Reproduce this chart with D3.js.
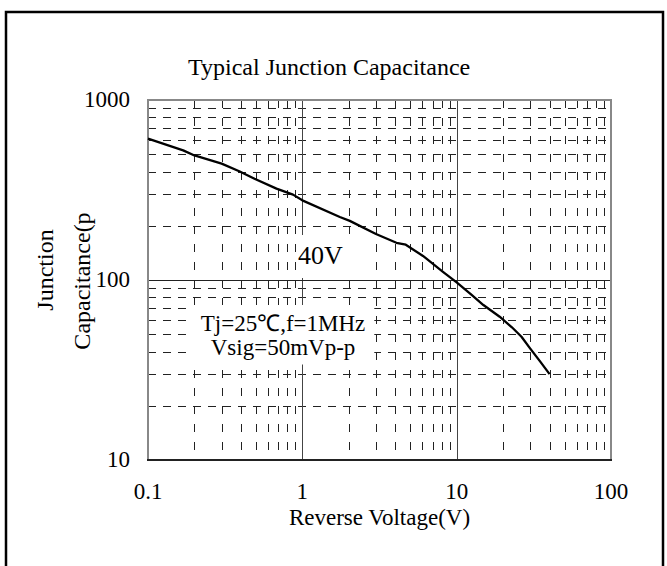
<!DOCTYPE html>
<html>
<head>
<meta charset="utf-8">
<script src="https://cdn.jsdelivr.net/npm/d3@7"></script>
<style>
  body { margin: 0; background: #fff; }
  svg text { font-family: "Liberation Serif", "Times New Roman", serif; fill: #000; }
</style>
</head>
<body>
<div id="chart"></div>
<script>
// values
const voltage = [0.1, 0.169, 0.2, 0.3, 0.39, 0.49, 0.68, 0.87, 1.0, 1.75, 2.03, 3.0, 4.07, 4.68, 6.05, 8.15, 10, 12.5, 14.9, 19, 22.8, 26.3, 29.9, 34.8, 40];
const capacitance = [610, 525, 492, 443, 402, 365, 322, 298, 277, 224, 213, 180, 161, 157, 136, 111, 97, 82.6, 72.6, 62.5, 54.6, 48.4, 41.7, 35.2, 30];

const xTicks = [0.1, 1, 10, 100];
const xTickLabels = ['0.1', '1', '10', '100'];
const yTicks = [10, 100, 1000];
const yTickLabels = ['10', '100', '1000'];

const title = 'Typical Junction Capacitance';
const xTitle = 'Reverse Voltage(V)';
const yTitle = ['Junction', 'Capacitance(p'];
const noteVoltage = '40V';
const noteCond = ['Tj=25\u2103,f=1MHz', 'Vsig=50mVp-p'];

const width = 667;
const height = 566;
const plot = {left: 148, right: 611, top: 100, bottom: 460};

const svg = d3.select('#chart').append('svg')
    .attr('width', width)
    .attr('height', height);

// outer frame
svg.append('rect')
    .attr('x', 6).attr('y', 12)
    .attr('width', 657).attr('height', 600)
    .attr('fill', '#fff')
    .attr('stroke', '#000')
    .attr('stroke-width', 2.5);

const x = d3.scaleLog().domain([0.1, 100]).range([plot.left, plot.right]);
const y = d3.scaleLog().domain([10, 1000]).range([plot.bottom, plot.top]);

const isMajor = v => Math.abs(Math.log10(v) - Math.round(Math.log10(v))) < 1e-6;
const xMinor = x.ticks().filter(v => !isMajor(v));
const yMinor = y.ticks().filter(v => !isMajor(v));

const grid = svg.append('g').attr('shape-rendering', 'crispEdges');

grid.selectAll('.vminor')
    .data(xMinor)
  .enter().append('line')
    .attr('class', 'vminor')
    .attr('x1', d => Math.round(x(d)) + 0.5).attr('x2', d => Math.round(x(d)) + 0.5)
    .attr('y1', plot.top).attr('y2', plot.bottom)
    .attr('stroke', '#222')
    .attr('stroke-dasharray', '8,10');

grid.selectAll('.hminor')
    .data(yMinor)
  .enter().append('line')
    .attr('class', 'hminor')
    .attr('y1', d => Math.round(y(d)) + 0.5).attr('y2', d => Math.round(y(d)) + 0.5)
    .attr('x1', plot.left).attr('x2', plot.right)
    .attr('stroke', '#222')
    .attr('stroke-dasharray', '8,7');

// solid decade lines
grid.selectAll('.vmajor')
    .data(xTicks.slice(1, -1))
  .enter().append('line')
    .attr('x1', d => Math.round(x(d)) + 0.5).attr('x2', d => Math.round(x(d)) + 0.5)
    .attr('y1', plot.top).attr('y2', plot.bottom)
    .attr('stroke', '#444');

grid.selectAll('.hmajor')
    .data(yTicks.slice(1, -1))
  .enter().append('line')
    .attr('y1', d => Math.round(y(d)) + 0.5).attr('y2', d => Math.round(y(d)) + 0.5)
    .attr('x1', plot.left).attr('x2', plot.right)
    .attr('stroke', '#222');

// plot border: grey on three sides, dark bottom
svg.append('path')
    .attr('d', `M${plot.left},${plot.bottom}V${plot.top}H${plot.right}V${plot.bottom}`)
    .attr('fill', 'none')
    .attr('stroke', '#888')
    .attr('stroke-width', 2);
svg.append('line')
    .attr('x1', plot.left - 1).attr('x2', plot.right + 1)
    .attr('y1', plot.bottom).attr('y2', plot.bottom)
    .attr('stroke', '#222')
    .attr('stroke-width', 2);

// text notes sit on white boxes that hide the grid
function boxedText (lines, opts) {
  const g = svg.append('g');
  const rect = g.append('rect').attr('fill', '#fff');
  const t = g.selectAll('text')
      .data(lines)
    .enter().append('text')
      .attr('x', opts.x)
      .attr('y', (d, i) => opts.y + i * opts.lineHeight)
      .attr('text-anchor', opts.anchor || 'start')
      .attr('font-size', opts.size)
      .text(d => d);
  const b = g.node().getBBox();
  rect.attr('x', b.x - opts.pad[3])
      .attr('y', b.y - opts.pad[0])
      .attr('width', b.width + opts.pad[1] + opts.pad[3])
      .attr('height', b.height + opts.pad[0] + opts.pad[2]);
  return t;
}

boxedText([noteVoltage], {x: 298, y: 264, size: 26, lineHeight: 0, pad: [6, 8, 8, 2]});
boxedText(noteCond, {x: 283, y: 331, size: 23, lineHeight: 23.5, anchor: 'middle', pad: [6, 9, 5, 10]});

// curve
const line = d3.line()
    .x(d => x(d[0]))
    .y(d => y(d[1]));

svg.append('path')
    .datum(d3.zip(voltage, capacitance))
    .attr('fill', 'none')
    .attr('stroke', '#000')
    .attr('stroke-width', 2.3)
    .attr('stroke-linejoin', 'round')
    .attr('d', line);

// tick labels
svg.selectAll('.xlabel')
    .data(xTicks)
  .enter().append('text')
    .attr('x', d => x(d))
    .attr('y', 499)
    .attr('text-anchor', 'middle')
    .attr('font-size', 23)
    .text((d, i) => xTickLabels[i]);

svg.selectAll('.ylabel')
    .data(yTicks)
  .enter().append('text')
    .attr('x', 130)
    .attr('y', d => y(d) + 7)
    .attr('text-anchor', 'end')
    .attr('font-size', 23)
    .text((d, i) => yTickLabels[i]);

// titles
svg.append('text')
    .attr('x', 188).attr('y', 75)
    .attr('font-size', 24)
    .text(title);

svg.append('text')
    .attr('x', (plot.left + plot.right) / 2).attr('y', 525)
    .attr('text-anchor', 'middle')
    .attr('font-size', 23)
    .text(xTitle);

svg.selectAll('.ytitle')
    .data(yTitle)
  .enter().append('text')
    .attr('transform', (d, i) => `translate(${i ? 90 : 53},${i ? 281 : 270}) rotate(-90)`)
    .attr('text-anchor', 'middle')
    .attr('font-size', 24)
    .text(d => d);
</script>
</body>
</html>
